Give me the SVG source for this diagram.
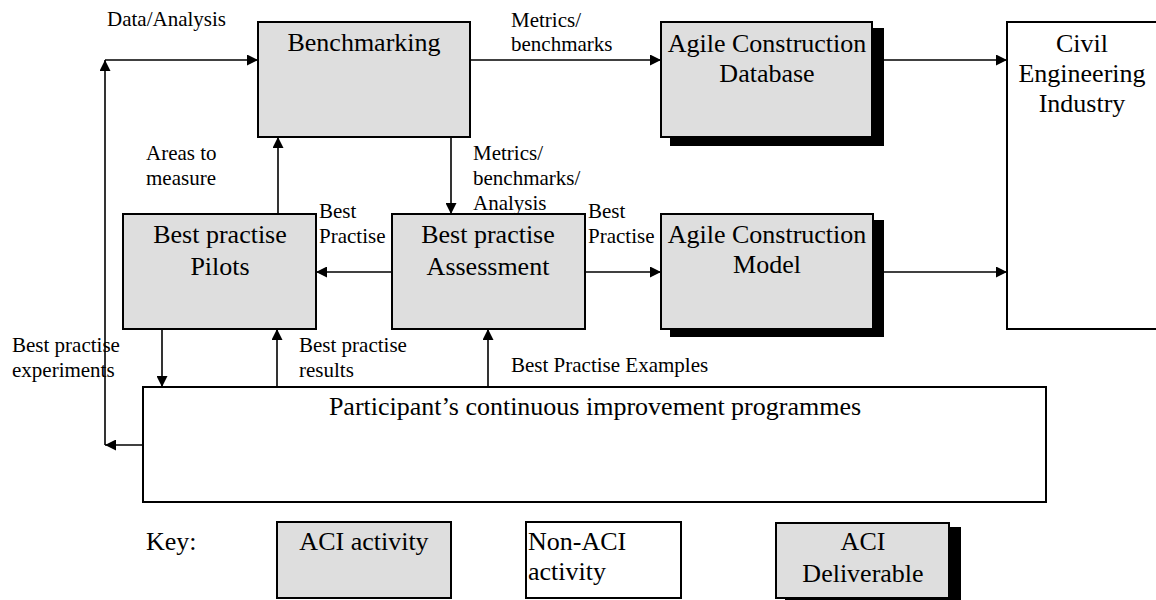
<svg xmlns="http://www.w3.org/2000/svg" width="1156" height="600" viewBox="0 0 1156 600">
  <style>
    .box { stroke: #000; stroke-width: 2; }
    .act { fill: #dedede; }
    .plain { fill: #fff; }
    .shadow { fill: #000; stroke: none; }
    .conn { stroke: #000; stroke-width: 1.6; fill: none; marker-end: url(#arrow); }
    text { font-family: "Liberation Serif", "Times New Roman", serif; fill: #000; }
    .big { font-size: 26px; }
    .small { font-size: 21px; }
    .mid { text-anchor: middle; }
  </style>
  <defs>
    <marker id="arrow" viewBox="0 0 10 10" refX="10" refY="5" markerWidth="11" markerHeight="11" markerUnits="userSpaceOnUse" orient="auto">
      <path d="M0,0 L10,5 L0,10 z" fill="#000"/>
    </marker>
  </defs>

  <!-- connectors -->
  <g id="connectors">
    <line class="conn" x1="143" y1="445" x2="105" y2="445"/>
    <line class="conn" x1="105" y1="445" x2="105" y2="60"/>
    <line class="conn" x1="105" y1="60" x2="258" y2="60"/>
    <line class="conn" x1="470" y1="60" x2="661" y2="60"/>
    <line class="conn" x1="884" y1="60" x2="1007" y2="60"/>
    <line class="conn" x1="278" y1="214" x2="278" y2="137"/>
    <line class="conn" x1="451" y1="137" x2="451" y2="214"/>
    <line class="conn" x1="392" y1="272" x2="316" y2="272"/>
    <line class="conn" x1="585" y1="272" x2="661" y2="272"/>
    <line class="conn" x1="884" y1="272" x2="1007" y2="272"/>
    <line class="conn" x1="162" y1="329" x2="162" y2="387"/>
    <line class="conn" x1="277" y1="387" x2="277" y2="329"/>
    <line class="conn" x1="488" y1="387" x2="488" y2="329"/>
  </g>

  <!-- connector labels -->
  <g id="labels" class="small">
    <text x="107" y="26">Data/Analysis</text>
    <text x="511" y="27">Metrics/</text>
    <text x="511" y="51">benchmarks</text>
    <text x="146" y="160">Areas to</text>
    <text x="146" y="185">measure</text>
    <text x="473" y="160">Metrics/</text>
    <text x="473" y="185">benchmarks/</text>
    <text x="473" y="210">Analysis</text>
    <text x="319" y="218">Best</text>
    <text x="319" y="243">Practise</text>
    <text x="588" y="218">Best</text>
    <text x="588" y="243">Practise</text>
    <text x="12" y="352">Best practise</text>
    <text x="12" y="377">experiments</text>
    <text x="299" y="352">Best practise</text>
    <text x="299" y="377">results</text>
    <text x="511" y="372">Best Practise Examples</text>
  </g>

  <g id="benchmarking">
    <rect class="box act" x="258" y="22" width="212" height="115"/>
    <text class="big mid" x="364" y="51">Benchmarking</text>
  </g>

  <g id="construction-database">
    <rect class="shadow" x="670" y="28" width="214" height="118"/>
    <rect class="box act" x="661" y="22" width="211" height="115"/>
    <text class="big mid" x="767" y="52">Agile Construction</text>
    <text class="big mid" x="767" y="82">Database</text>
  </g>

  <g id="civil-industry">
    <rect class="box plain" x="1007" y="22" width="150" height="307"/>
    <text class="big mid" x="1082" y="52">Civil</text>
    <text class="big mid" x="1082" y="82">Engineering</text>
    <text class="big mid" x="1082" y="112">Industry</text>
  </g>

  <g id="pilots">
    <rect class="box act" x="123" y="214" width="193" height="115"/>
    <text class="big mid" x="220" y="243">Best practise</text>
    <text class="big mid" x="220" y="275">Pilots</text>
  </g>

  <g id="assessment">
    <rect class="box act" x="392" y="214" width="193" height="115"/>
    <text class="big mid" x="488" y="243">Best practise</text>
    <text class="big mid" x="488" y="275">Assessment</text>
  </g>

  <g id="construction-model">
    <rect class="shadow" x="670" y="220" width="214" height="117"/>
    <rect class="box act" x="661" y="214" width="212" height="115"/>
    <text class="big mid" x="767" y="243">Agile Construction</text>
    <text class="big mid" x="767" y="273">Model</text>
  </g>

  <g id="improvement-programmes">
    <rect class="box plain" x="143" y="387" width="903" height="115"/>
    <text class="big mid" x="595" y="415">Participant’s continuous improvement programmes</text>
  </g>

  <!-- key -->
  <g id="key">
    <text class="big" x="146" y="550">Key:</text>
  </g>
  <g id="key-activity">
    <rect class="box act" x="277" y="522" width="174" height="76"/>
    <text class="big mid" x="364" y="550">ACI activity</text>
  </g>
  <g id="key-non-activity">
    <rect class="box plain" x="526" y="522" width="155" height="76"/>
    <text class="big" x="528" y="550">Non-ACI</text>
    <text class="big" x="528" y="580">activity</text>
  </g>
  <g id="key-deliverable">
    <rect class="shadow" x="785" y="527" width="176" height="80"/>
    <rect class="box act" x="776" y="523" width="173" height="75"/>
    <text class="big mid" x="863" y="550">ACI</text>
    <text class="big mid" x="863" y="582">Deliverable</text>
  </g>
</svg>
